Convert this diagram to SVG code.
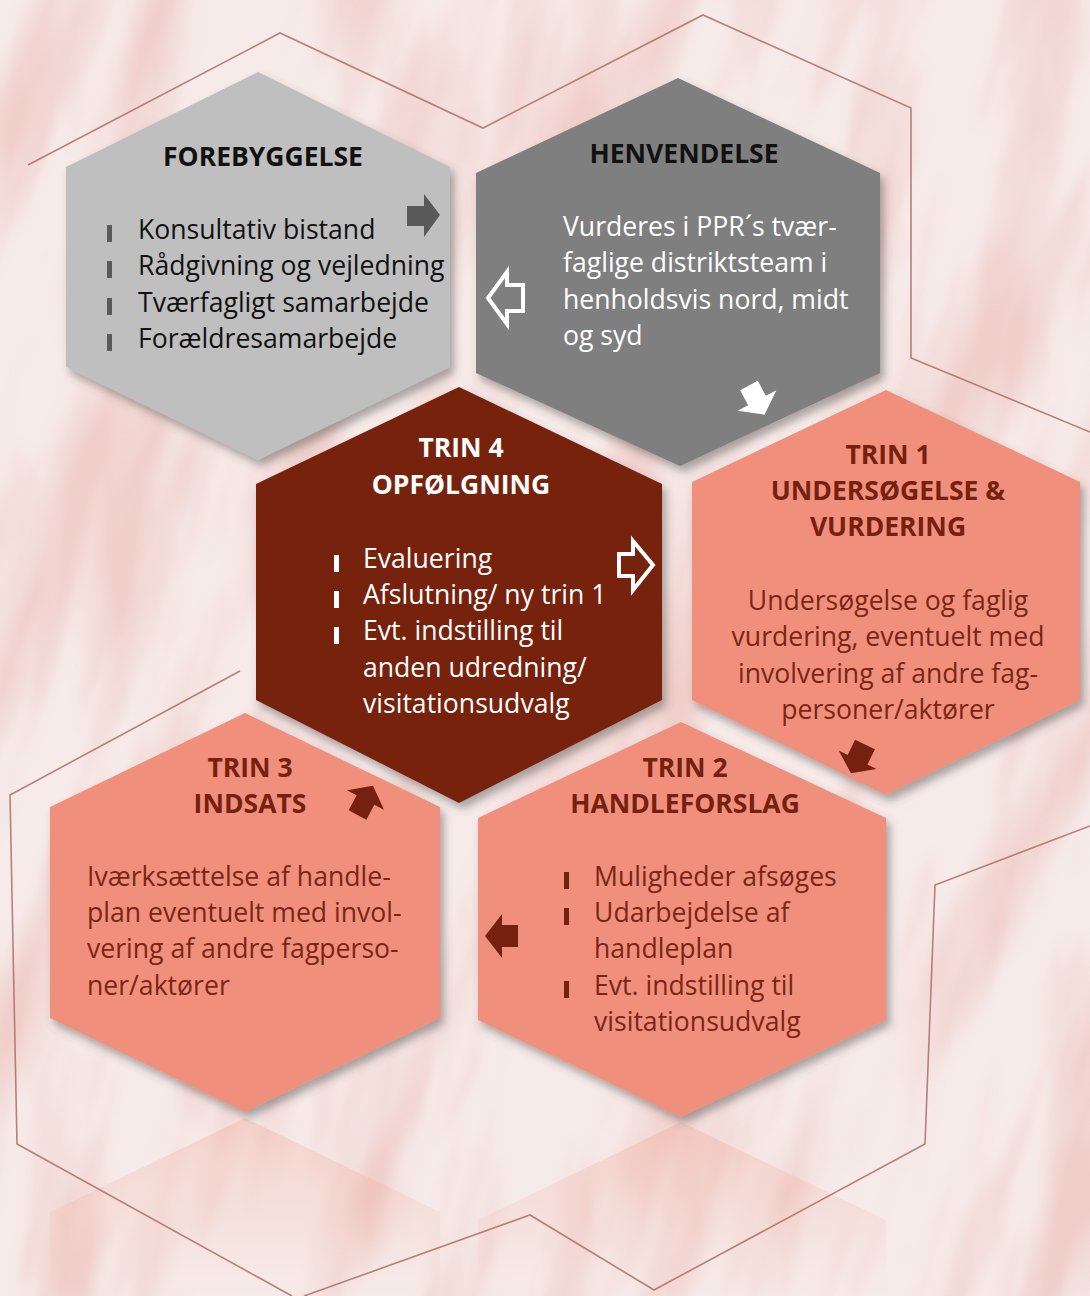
<svg xmlns="http://www.w3.org/2000/svg" width="1090" height="1296" viewBox="0 0 1090 1296">
<defs>
  <filter id="marble" x="-300" y="-300" width="1700" height="1900" filterUnits="userSpaceOnUse">
    <feTurbulence type="fractalNoise" baseFrequency="0.013 0.0025" numOctaves="4" seed="11" result="n"/>
    <feColorMatrix in="n" type="matrix" values="0 0 0 0 0.86  0 0 0 0 0.56  0 0 0 0 0.53  3.0 0 0 0 -1.3"/>
    <feGaussianBlur stdDeviation="3"/>
  </filter>
  <filter id="shadow" x="-10%" y="-10%" width="125%" height="125%">
    <feDropShadow dx="4" dy="6" stdDeviation="4" flood-color="#4a4a4a" flood-opacity="0.45"/>
  </filter>
  <linearGradient id="refl" x1="0" y1="0" x2="0" y2="1">
    <stop offset="0" stop-color="#f0907b" stop-opacity="0.25"/>
    <stop offset="1" stop-color="#f0907b" stop-opacity="0"/>
  </linearGradient>
  <style>
    .title { font-family: "Open Sans", "Liberation Sans", sans-serif; font-weight: 700; font-size: 26.5px; text-anchor: middle; }
    .body { font-family: "Open Sans", "Liberation Sans", sans-serif; font-size: 26.6px; }
    .mid { text-anchor: middle; }
    .dark { fill: #111111; }
    .white { fill: #ffffff; }
    .red { fill: #76200f; }
    .rtext { fill: #7a2614; }
    .outline { fill: none; stroke: #a8675c; stroke-width: 1.6; stroke-opacity: 0.8; }
    .hex { filter: url(#shadow); }
  </style>
</defs>

<!-- background -->
<rect x="0" y="0" width="1090" height="1296" fill="#f6ebe9"/>
<g transform="rotate(14 545 648)">
  <rect x="-300" y="-300" width="1700" height="1900" filter="url(#marble)" opacity="0.75"/>
</g>

<!-- faint reflections -->
<g id="reflections">
  <polygon points="245,1118 440,1212 440,1296 50,1296 50,1212" fill="url(#refl)"/>
  <polygon points="681,1122 886,1220 886,1296 478,1296 478,1220" fill="url(#refl)"/>
</g>

<!-- background outline lines -->
<g id="outlines">
  <polyline class="outline" points="28,165 280,33 483,128 703,15 911,108 911,358 1090,432"/>
  <polyline class="outline" points="240,671 10,795 17,1144 292,1296"/>
  <polyline class="outline" points="304,1296 530,1215 654,1290 925,1144 935,885 1090,826"/>
</g>

<!-- FOREBYGGELSE -->
<g id="forebyggelse">
  <polygon class="hex" points="258,72 450,167 450,367 258,460 66,367 66,167" fill="#bfbfbf"/>
  <text class="title dark" x="263" y="166">FOREBYGGELSE</text>
  <g fill="#595959">
    <rect x="107" y="225" width="5" height="17"/>
    <rect x="107" y="261" width="5" height="17"/>
    <rect x="107" y="298" width="5" height="17"/>
    <rect x="107" y="334" width="5" height="17"/>
  </g>
  <text class="body dark" x="138" y="239">Konsultativ bistand</text>
  <text class="body dark" x="138" y="275">Rådgivning og vejledning</text>
  <text class="body dark" x="138" y="312">Tværfagligt samarbejde</text>
  <text class="body dark" x="138" y="348">Forældresamarbejde</text>
</g>

<!-- HENVENDELSE -->
<g id="henvendelse">
  <polygon class="hex" points="678,78 880,173 880,373 680,466 476,373 476,173" fill="#7f7f7f"/>
  <text class="title dark" x="684" y="163">HENVENDELSE</text>
  <text class="body white" x="563" y="236">Vurderes i PPR´s tvær-</text>
  <text class="body white" x="563" y="272">faglige distriktsteam i</text>
  <text class="body white" x="563" y="309">henholdsvis nord, midt</text>
  <text class="body white" x="563" y="345">og syd</text>
</g>

<!-- TRIN 1 -->
<g id="trin1">
  <polygon class="hex" points="886,390 1080,482 1080,700 886,795 692,700 692,482" fill="#f0907b"/>
  <text class="title red" x="888" y="464">TRIN 1</text>
  <text class="title red" x="888" y="500">UNDERSØGELSE &amp;</text>
  <text class="title red" x="888" y="536">VURDERING</text>
  <text class="body mid rtext" x="888" y="610">Undersøgelse og faglig</text>
  <text class="body mid rtext" x="888" y="646">vurdering, eventuelt med</text>
  <text class="body mid rtext" x="888" y="683">involvering af andre fag-</text>
  <text class="body mid rtext" x="888" y="719">personer/aktører</text>
</g>

<!-- TRIN 4 -->
<g id="trin4">
  <polygon class="hex" points="459,387 662,484 662,700 459,803 256,700 256,484" fill="#76200f"/>
  <text class="title white" x="461" y="457">TRIN 4</text>
  <text class="title white" x="461" y="494">OPFØLGNING</text>
  <g fill="#ffffff">
    <rect x="334" y="555" width="5" height="17"/>
    <rect x="334" y="591" width="5" height="17"/>
    <rect x="334" y="627" width="5" height="17"/>
  </g>
  <text class="body white" x="363" y="568">Evaluering</text>
  <text class="body white" x="363" y="604">Afslutning/ ny trin 1</text>
  <text class="body white" x="363" y="640">Evt. indstilling til</text>
  <text class="body white" x="363" y="677">anden udredning/</text>
  <text class="body white" x="363" y="713">visitationsudvalg</text>
</g>

<!-- TRIN 3 -->
<g id="trin3">
  <polygon class="hex" points="245,713 440,807 440,1018 245,1112 50,1018 50,807" fill="#f0907b"/>
  <text class="title red" x="250" y="777">TRIN 3</text>
  <text class="title red" x="250" y="813">INDSATS</text>
  <text class="body rtext" x="87" y="886">Iværksættelse af handle-</text>
  <text class="body rtext" x="87" y="922">plan eventuelt med invol-</text>
  <text class="body rtext" x="87" y="958">vering af andre fagperso-</text>
  <text class="body rtext" x="87" y="995">ner/aktører</text>
</g>

<!-- TRIN 2 -->
<g id="trin2">
  <polygon class="hex" points="681,722 886,818 886,1020 681,1117 478,1020 478,818" fill="#f0907b"/>
  <text class="title red" x="685" y="777">TRIN 2</text>
  <text class="title red" x="685" y="813">HANDLEFORSLAG</text>
  <g fill="#76200f">
    <rect x="564" y="872" width="5" height="17"/>
    <rect x="564" y="908" width="5" height="17"/>
    <rect x="564" y="981" width="5" height="17"/>
  </g>
  <text class="body rtext" x="594" y="886">Muligheder afsøges</text>
  <text class="body rtext" x="594" y="922">Udarbejdelse af</text>
  <text class="body rtext" x="594" y="958">handleplan</text>
  <text class="body rtext" x="594" y="995">Evt. indstilling til</text>
  <text class="body rtext" x="594" y="1031">visitationsudvalg</text>
</g>

<!-- connectors (arrows) -->
<g id="connectors">
  <polygon points="407,206 424,206 424,194 440,215 424,237 424,226 407,226" fill="#595959"/>
  <polygon points="523,285 507,285 507,272 488,298 507,324 507,311 523,311" fill="none" stroke="#ffffff" stroke-width="4" stroke-linejoin="miter"/>
  <polygon points="619,554 633,554 633,541 653,565 633,590 633,576 619,576" fill="none" stroke="#ffffff" stroke-width="4" stroke-linejoin="miter"/>
  <polygon transform="translate(749,385.5) rotate(62)" points="0,-10 17,-10 17,-22 33,0 17,22 17,10 0,10" fill="#ffffff"/>
  <polygon transform="translate(865,744.5) rotate(116)" points="0,-11 17,-11 17,-21 32,0 17,21 17,11 0,11" fill="#76200f"/>
  <polygon points="518,925 502,925 502,914 485,936 502,958 502,947 518,947" fill="#76200f"/>
  <polygon transform="translate(357.5,815) rotate(-62)" points="0,-10 17,-10 17,-21 33,0 17,21 17,10 0,10" fill="#76200f"/>
</g>
</svg>
